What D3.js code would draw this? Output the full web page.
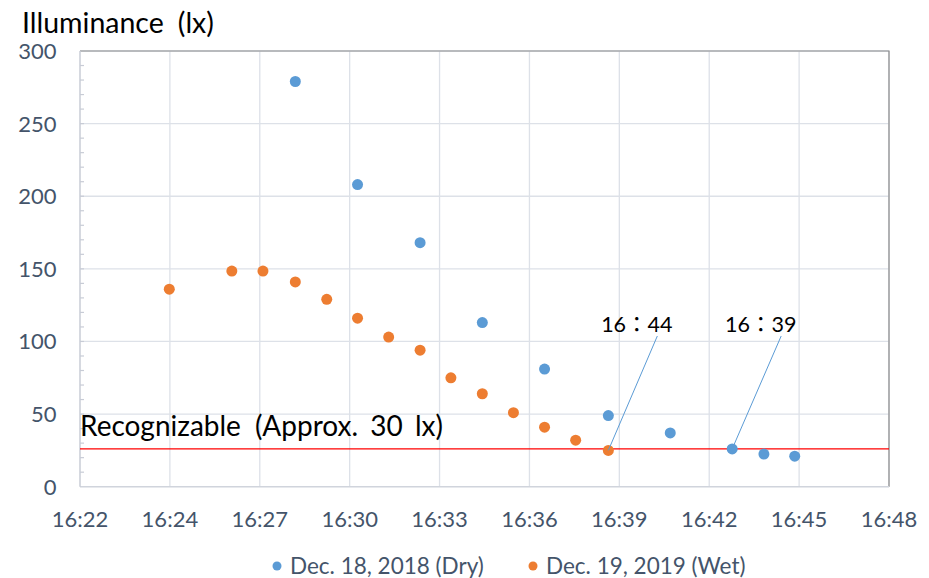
<!DOCTYPE html>
<html>
<head>
<meta charset="utf-8">
<script src="https://cdn.jsdelivr.net/npm/d3@7"></script>
<style>
  html, body { margin: 0; padding: 0; background: #fff; }
  svg { display: block; font-family: Lato, "Noto Sans CJK JP", sans-serif; }
</style>
</head>
<body>
<svg id="chart" width="929" height="578"></svg>
<script>
// Times as minutes after 16:00
const dryTimes = [28.92, 30.92, 32.93, 34.93, 36.93, 38.98, 40.97, 42.96, 43.98, 44.97];
const dryValues = [279, 208, 168, 113, 81, 49, 37, 26, 22.5, 21];
const wetTimes = [24.87, 26.88, 27.88, 28.92, 29.93, 30.92, 31.92, 32.93, 33.92, 34.93, 35.93, 36.93, 37.93, 38.98];
const wetValues = [136, 148.5, 148.5, 141, 129, 116, 103, 94, 75, 64, 51, 41, 32, 25];
const seriesNames = ["Dec. 18, 2018 (Dry)", "Dec. 19, 2019 (Wet)"];
const xTickLabels = ["16:22", "16:24", "16:27", "16:30", "16:33", "16:36", "16:39", "16:42", "16:45", "16:48"];
const yTicks = [0, 50, 100, 150, 200, 250, 300];
const thresholdValue = 26;
const thresholdLabel = ["Recognizable", "(Approx. 30 lx)"];
const yTitle = ["Illuminance", "(lx)"];
const annotations = [
  { label: "16\uFF1A44", series: 1, index: 13 },
  { label: "16\uFF1A39", series: 0, index: 7 }
];

const colors = ["#5b9bd5", "#ed7d31"];
const svg = d3.select("#chart");
const x = d3.scaleLinear().domain([22, 48]).range([80, 889]);
const y = d3.scaleLinear().domain([0, 300]).range([486.7, 51]);
const xTickVals = xTickLabels.map((d, i) => 22 + i * 26 / 9);

// gridlines
const grid = svg.append("g");
grid.selectAll("line.h").data(yTicks.slice(1)).join("line")
  .attr("x1", x(22)).attr("x2", x(48))
  .attr("y1", d => y(d)).attr("y2", d => y(d))
  .attr("stroke", "#dde1e8").attr("stroke-width", 1.3);
grid.selectAll("line.v").data(xTickVals.slice(1)).join("line")
  .attr("x1", d => x(d)).attr("x2", d => x(d))
  .attr("y1", y(0)).attr("y2", y(300))
  .attr("stroke", "#dde1e8").attr("stroke-width", 1.3);

// border top/right
svg.append("path")
  .attr("d", `M${x(22)},${y(300)}H${x(48)}V${y(0)}`)
  .attr("fill", "none").attr("stroke", "#8c8c8c").attr("stroke-width", 1.2);

// axes lines
svg.append("line").attr("x1", x(22)).attr("x2", x(48)).attr("y1", y(0)).attr("y2", y(0))
  .attr("stroke", "#d0d4dc").attr("stroke-width", 1.5);
svg.append("line").attr("x1", x(22)).attr("x2", x(22)).attr("y1", y(0)).attr("y2", y(300))
  .attr("stroke", "#c8ccd6").attr("stroke-width", 1.5);
// minor ticks
svg.append("g").selectAll("line").data(d3.range(10, 300, 10)).join("line")
  .attr("x1", x(22)).attr("x2", x(22) + 4)
  .attr("y1", d => y(d)).attr("y2", d => y(d))
  .attr("stroke", "#c8ccd6").attr("stroke-width", 1.2);

// y tick labels
svg.append("g").selectAll("text").data(yTicks).join("text")
  .attr("x", 56.5).attr("y", d => y(d)).attr("dy", "0.36em")
  .attr("text-anchor", "end").attr("font-size", 22).attr("fill", "#44546a")
  .text(d => d);
// x tick labels
svg.append("g").selectAll("text").data(xTickVals).join("text")
  .attr("x", d => x(d)).attr("y", 527)
  .attr("text-anchor", "middle").attr("font-size", 22).attr("fill", "#44546a")
  .text((d, i) => xTickLabels[i]);

// y title
const tt = svg.append("text").attr("x", 22).attr("y", 33).attr("font-size", 28.5).attr("fill", "#000");
tt.append("tspan").text(yTitle[0]);
tt.append("tspan").attr("dx", 14).text(yTitle[1]);

// threshold
svg.append("line").attr("x1", x(22)).attr("x2", x(48))
  .attr("y1", y(thresholdValue)).attr("y2", y(thresholdValue))
  .attr("stroke", "#ff0000").attr("stroke-width", 1.3);
const th = svg.append("text").attr("x", 80).attr("y", 436).attr("font-size", 28).attr("fill", "#000");
th.append("tspan").text(thresholdLabel[0]);
th.append("tspan").attr("dx", 14).attr("word-spacing", 5).text(thresholdLabel[1]);

// points
const series = [
  { t: dryTimes, v: dryValues },
  { t: wetTimes, v: wetValues }
];
series.forEach((s, si) => {
  svg.append("g").selectAll("circle").data(s.t.map((t, i) => [t, s.v[i]])).join("circle")
    .attr("cx", d => x(d[0])).attr("cy", d => y(d[1])).attr("r", 5.5)
    .attr("fill", colors[si]);
});

// annotations
annotations.forEach(a => {
  const s = series[a.series];
  const px = x(s.t[a.index]), py = y(s.v[a.index]);
  const lx = px + 49, ly = 336;
  svg.append("line").attr("x1", lx).attr("y1", ly).attr("x2", px).attr("y2", py)
    .attr("stroke", "#5b9bd5").attr("stroke-width", 1);
  svg.append("text").attr("x", lx - 20.5).attr("y", 332).attr("text-anchor", "middle")
    .attr("font-size", 21.5).attr("fill", "#000").text(a.label);
});

// legend
const legX = [277, 533];
seriesNames.forEach((n, i) => {
  svg.append("circle").attr("cx", legX[i]).attr("cy", 566).attr("r", 4.5).attr("fill", colors[i]);
  svg.append("text").attr("x", legX[i] + 13).attr("y", 566).attr("dy", "0.36em")
    .attr("font-size", 22.5).attr("fill", "#44546a").text(n);
});
</script>
</body>
</html>
